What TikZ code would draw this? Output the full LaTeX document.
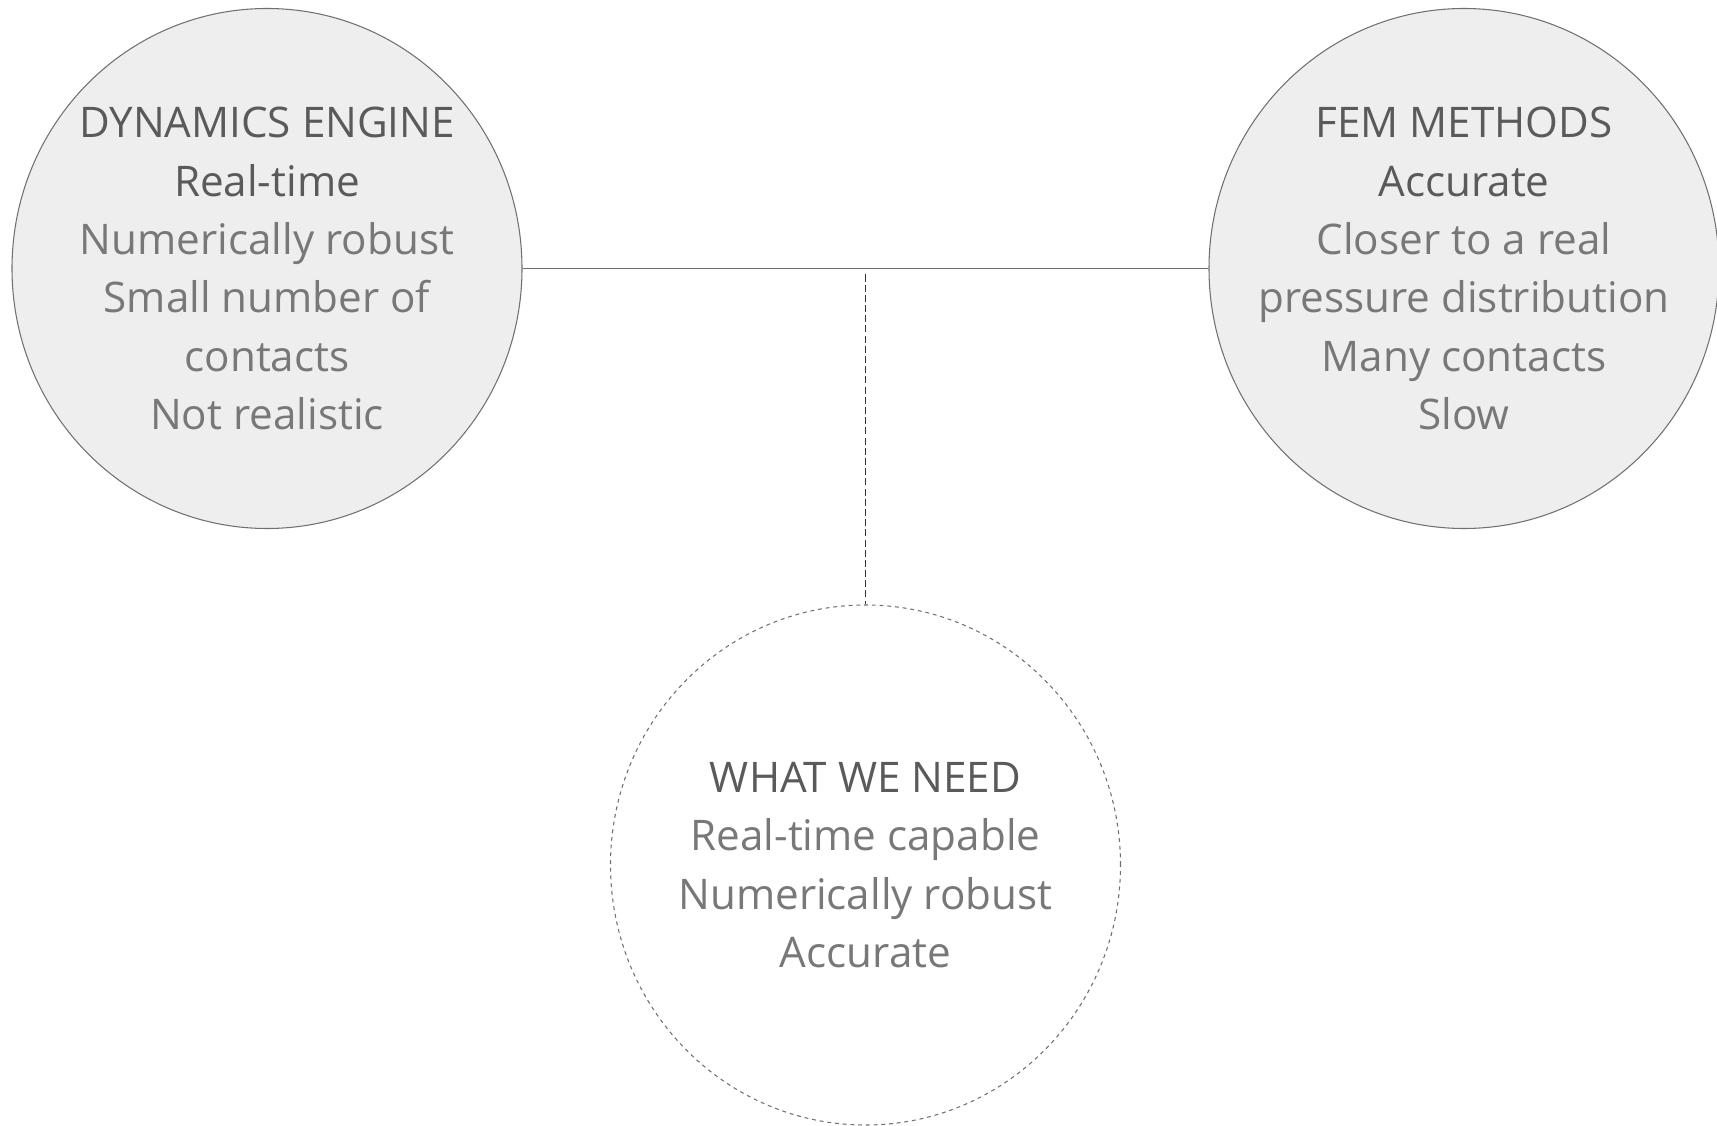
\documentclass[tikz,border=0pt]{standalone}
\usepackage{fontspec}
\setmainfont{Open Sans}
\usetikzlibrary{calc,shapes.geometric}
\definecolor{discfill}{HTML}{EEEEEE}
\definecolor{discline}{HTML}{707070}
\definecolor{headtext}{HTML}{5A5A5A}
\definecolor{bodytext}{HTML}{787878}
\newcommand{\hd}[1]{{\color{headtext}#1}}
\begin{document}
\begin{tikzpicture}[x=1cm,y=1cm,
  disc/.style={ellipse,minimum width=5.1cm,minimum height=5.2cm,inner sep=-0.5cm,
    align=center,text=bodytext,font=\fontsize{12}{16.6}\selectfont},
  full/.style={disc,draw=discline,fill=discfill,line width=0.3pt},
  open/.style={disc,draw=discline,line width=0.3pt,dash pattern=on 1.1pt off 1.1pt},
  link/.style={draw=discline,line width=0.5pt},
  linkdash/.style={draw=black!80,line width=0.3pt,dash pattern=on 2pt off 0.9pt}]
\useasboundingbox (0,0) rectangle (17.17,-11.26);

\node[full] (dyn) at (2.67,-2.685) {\hd{DYNAMICS ENGINE}\\\hd{Real-time}\\Numerically robust\\Small number of\\contacts\\Not realistic};
\node[full] (fem) at (14.64,-2.685) {\hd{FEM METHODS}\\\hd{Accurate}\\Closer to a real\\pressure distribution\\Many contacts\\Slow};
\node[open] (need) at (8.655,-8.65) {\hd{WHAT WE NEED}\\Real-time capable\\Numerically robust\\Accurate};

\draw[link] (dyn.east) -- (fem.west);
\coordinate (mid) at ($(dyn.east)!0.5!(fem.west)$);
\draw[linkdash,shorten <=0.06cm] (mid) -- (need.north);
\end{tikzpicture}
\end{document}
